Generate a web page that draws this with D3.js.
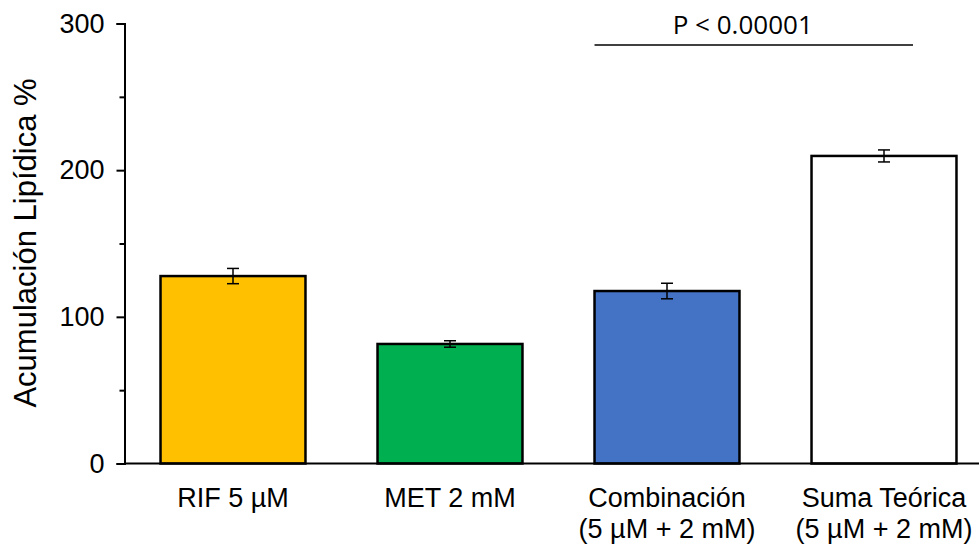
<!DOCTYPE html>
<html>
<head>
<meta charset="utf-8">
<script src="https://cdn.jsdelivr.net/npm/d3@7"></script>
<style>
  body { margin: 0; background: #fff; }
  text { font-family: "Liberation Sans", Arial, sans-serif; fill: #000; }
</style>
</head>
<body>
<svg id="chart"></svg>
<script>
// Data
const categories = ['RIF 5 µM', 'MET 2 mM', 'Combinación', 'Suma Teórica']
const subLabels = ['', '', '(5 µM + 2 mM)', '(5 µM + 2 mM)']
const values = [127.8, 81.5, 117.6, 209.7]
const errors = [5.2, 2.2, 5.3, 4.1]
const colors = ['#FFC000', '#00B050', '#4472C4', '#FFFFFF']
const majorTicks = [0, 100, 200, 300]
const minorTicks = [50, 150, 250]
const annotation = 'P < 0.00001'

const width = 979
const height = 546

const svg = d3.select('#chart')
  .attr('width', width)
  .attr('height', height)

const y = d3.scaleLinear().domain([0, 300]).range([463.5, 23.5])
const x = d3.scaleBand()
  .domain(categories)
  .range([124.5, 992.5])
  .paddingInner(0.332)
  .paddingOuter(0.166)

// Bars
svg.append('g')
  .selectAll('rect')
  .data(values)
  .join('rect')
  .attr('x', (d, i) => x(categories[i]))
  .attr('y', d => y(d))
  .attr('width', x.bandwidth())
  .attr('height', d => y(0) - y(d))
  .attr('fill', (d, i) => colors[i])
  .attr('stroke', '#000')
  .attr('stroke-width', 2.5)

// Error bars
const cap = 6
const err = svg.append('g')
  .attr('stroke', '#000')
  .attr('stroke-width', 1.5)
  .selectAll('g')
  .data(values)
  .join('g')
  .attr('transform', (d, i) => `translate(${x(categories[i]) + x.bandwidth() / 2},0)`)
err.append('line')
  .attr('y1', (d, i) => y(d + errors[i]))
  .attr('y2', (d, i) => y(d - errors[i]))
err.append('line')
  .attr('x1', -cap).attr('x2', cap)
  .attr('y1', (d, i) => y(d + errors[i]))
  .attr('y2', (d, i) => y(d + errors[i]))
err.append('line')
  .attr('x1', -cap).attr('x2', cap)
  .attr('y1', (d, i) => y(d - errors[i]))
  .attr('y2', (d, i) => y(d - errors[i]))

// Y axis
const yAxis = svg.append('g')
  .attr('transform', 'translate(124.5,0)')
  .call(d3.axisLeft(y).tickValues(majorTicks).tickSize(8).tickPadding(12))
yAxis.select('.domain').attr('stroke-width', 2)
yAxis.selectAll('.tick line').attr('stroke-width', 2)
yAxis.selectAll('.tick text')
  .style('font-size', '27px')
  .attr('font-family', null)

svg.append('g')
  .attr('transform', 'translate(124.5,0)')
  .call(d3.axisLeft(y).tickValues(minorTicks).tickSize(5).tickFormat(''))
  .call(g => g.select('.domain').remove())
  .selectAll('.tick line').attr('stroke-width', 2)

// X axis line
svg.append('line')
  .attr('x1', 124.5).attr('x2', width)
  .attr('y1', y(0)).attr('y2', y(0))
  .attr('stroke', '#000')
  .attr('stroke-width', 2)

// Category labels
const labels = svg.append('g')
  .selectAll('text')
  .data(categories)
  .join('text')
  .attr('text-anchor', 'middle')
  .attr('x', d => x(d) + x.bandwidth() / 2)
  .attr('y', 507)
  .style('font-size', '27px')
labels.append('tspan').text(d => d)
labels.append('tspan')
  .attr('x', d => x(d) + x.bandwidth() / 2)
  .attr('dy', 31)
  .text((d, i) => subLabels[i])

// Y title
svg.append('text')
  .attr('transform', 'translate(36,243) rotate(-90)')
  .attr('text-anchor', 'middle')
  .style('font-size', '31px')
  .text('Acumulación Lipídica %')

// Significance annotation
const annX1 = x(categories[2])
const annX2 = x(categories[3]) + x.bandwidth() * 0.7
svg.append('line')
  .attr('x1', annX1).attr('x2', annX2)
  .attr('y1', 45).attr('y2', 45)
  .attr('stroke', '#000')
  .attr('stroke-width', 1.3)
svg.append('text')
  .attr('x', (annX1 + annX2) / 2 - 11)
  .attr('y', 34)
  .attr('text-anchor', 'middle')
  .style('font-family', '"Open Sans", sans-serif')
  .style('font-size', '26px')
  .text(annotation)
</script>
</body>
</html>
